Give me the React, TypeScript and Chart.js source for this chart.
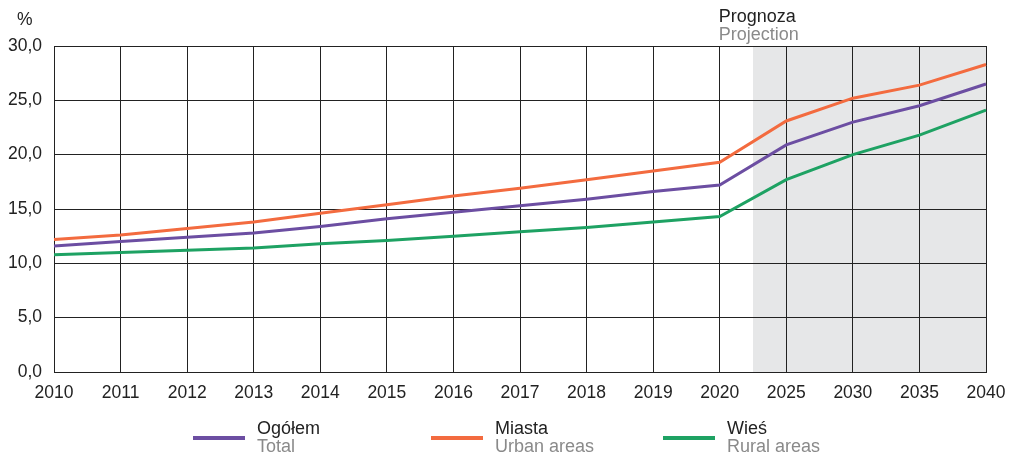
import React, { useEffect, useRef } from "react";
import { Chart, registerables } from "chart.js";

Chart.register(...registerables);

const categories = ["2010", "2011", "2012", "2013", "2014", "2015", "2016", "2017", "2018", "2019", "2020", "2025", "2030", "2035", "2040"];
const totalValues = [11.6, 12.0, 12.4, 12.8, 13.4, 14.1, 14.7, 15.3, 15.9, 16.6, 17.2, 20.9, 23.0, 24.5, 26.5];
const urbanValues = [12.2, 12.6, 13.2, 13.8, 14.6, 15.4, 16.2, 16.9, 17.7, 18.5, 19.3, 23.1, 25.2, 26.4, 28.3];
const ruralValues = [10.8, 11.0, 11.2, 11.4, 11.8, 12.1, 12.5, 12.9, 13.3, 13.8, 14.3, 17.7, 20.0, 21.8, 24.1];
const yTicks = [0, 5, 10, 15, 20, 25, 30];

const COLORS = { total: "#6c4ea2", urban: "#f36b3f", rural: "#1ea263" };
const FONT = "'Liberation Sans', Arial, sans-serif";

const overlayPlugin = {
  id: "overlay",
  beforeDraw(chart: any) {
    const { ctx, chartArea, scales } = chart;
    const x = scales.x;
    const start = (x.getPixelForValue(10) + x.getPixelForValue(11)) / 2;
    ctx.save();
    ctx.fillStyle = "#e6e7e8";
    ctx.fillRect(start, chartArea.top, chartArea.right - start, chartArea.bottom - chartArea.top);
    ctx.restore();
  },
  afterDraw(chart: any) {
    const { ctx, scales } = chart;
    const x = scales.x;
    ctx.save();
    ctx.font = `17.5px ${FONT}`;
    ctx.textBaseline = "alphabetic";
    ctx.textAlign = "left";
    ctx.fillStyle = "#222";
    ctx.fillText("%", 17, 25);
    ctx.font = `18px ${FONT}`;
    const px2020 = x.getPixelForValue(10);
    ctx.fillText("Prognoza", px2020 - 1, 22);
    ctx.fillStyle = "#8a8a8a";
    ctx.fillText("Projection", px2020 - 1, 40);

    const items = [
      { color: COLORS.total, l1: "Ogółem", l2: "Total", x: 193 },
      { color: COLORS.urban, l1: "Miasta", l2: "Urban areas", x: 431 },
      { color: COLORS.rural, l1: "Wieś", l2: "Rural areas", x: 663 },
    ];
    for (const it of items) {
      ctx.strokeStyle = it.color;
      ctx.lineWidth = 4;
      ctx.beginPath();
      ctx.moveTo(it.x, 438);
      ctx.lineTo(it.x + 52, 438);
      ctx.stroke();
      ctx.fillStyle = "#222";
      ctx.fillText(it.l1, it.x + 64, 434);
      ctx.fillStyle = "#8a8a8a";
      ctx.fillText(it.l2, it.x + 64, 452);
    }
    ctx.restore();
  },
};

export default function App() {
  const ref = useRef<HTMLCanvasElement>(null);
  useEffect(() => {
    document.body.style.margin = "0";
    const chart = new Chart(ref.current!, {
      type: "line",
      data: {
        labels: categories,
        datasets: [
          { label: "Ogółem", data: totalValues, borderColor: COLORS.total, borderWidth: 3, pointRadius: 0, tension: 0 },
          { label: "Miasta", data: urbanValues, borderColor: COLORS.urban, borderWidth: 3, pointRadius: 0, tension: 0 },
          { label: "Wieś", data: ruralValues, borderColor: COLORS.rural, borderWidth: 3, pointRadius: 0, tension: 0 },
        ],
      },
      options: {
        animation: false,
        responsive: false,
        maintainAspectRatio: false,
        layout: { padding: { left: 0, right: 25, top: 46, bottom: 0 } },
        plugins: { legend: { display: false }, tooltip: { enabled: false } },
        scales: {
          x: {
            offset: false,
            grid: { color: "#222", lineWidth: 1, drawTicks: false },
            border: { color: "#222", width: 1 },
            ticks: { color: "#222", font: { family: FONT, size: 17.5 }, padding: 11, maxRotation: 0, autoSkip: false },
            afterFit(scale: any) {
              scale.height = 83;
              scale.paddingLeft = 0;
              scale.paddingRight = 0;
            },
          },
          y: {
            min: 0,
            max: 30,
            grid: { color: "#222", lineWidth: 1, drawTicks: false },
            border: { color: "#222", width: 1 },
            afterBuildTicks(scale: any) { scale.ticks = yTicks.map((v) => ({ value: v })); },
            ticks: {
              color: "#222",
              font: { family: FONT, size: 17.5 },
              padding: 12,
              callback: (v: any) => Number(v).toFixed(1).replace(".", ","),
            },
            afterFit(scale: any) {
              scale.width = 54;
              scale.paddingTop = 0;
              scale.paddingBottom = 0;
            },
          },
        },
      },
      plugins: [overlayPlugin],
    });
    return () => chart.destroy();
  }, []);
  return <canvas ref={ref} width={1011} height={455} style={{ display: "block" }} />;
}
